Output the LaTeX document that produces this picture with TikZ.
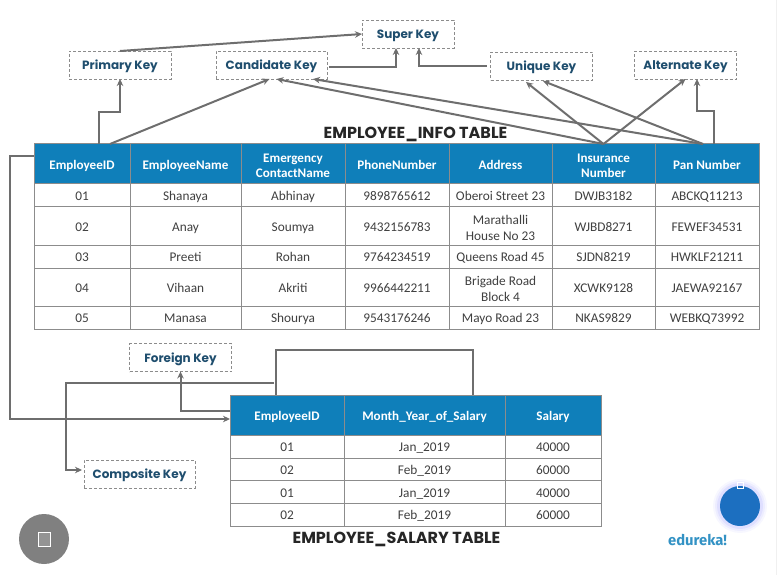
\documentclass[tikz,border=0pt]{standalone}
\usepackage{fontspec}
\setmainfont{Carlito}
\newfontfamily\keyfont{Poppins}
\newfontfamily\logofont{Fira Sans}
\usepackage{tikz}
\usetikzlibrary{positioning,arrows.meta}
\definecolor{headblue}{HTML}{0F7FBA}
\definecolor{keyink}{HTML}{1F4E6E}
\definecolor{lineg}{HTML}{6E6E6E}
\definecolor{gridg}{HTML}{8C8C8C}
\definecolor{bodyink}{HTML}{404040}
\definecolor{chatblue}{HTML}{1C6FC0}
\newcommand{\cellstrut}[2]{\rule{0pt}{#1pt}\rule[-#2pt]{0pt}{#2pt}}
\newcommand{\twoline}{\rule{0pt}{15.2pt}}
\tikzstyle{keybox} = [
rectangle,
draw=gridg,
densely dashed,
fill=white,
line width=0.7pt,
minimum width=102pt,
minimum height=28pt,
inner sep=0pt,
outer sep=0pt,
text=keyink,
execute at begin node={\cellstrut{13}{4}},
font=\keyfont\bfseries\fontsize{12}{14}\selectfont
]
\tikzstyle{headcell} = [
rectangle,
draw=gridg,
fill=headblue,
line width=1pt,
inner sep=0pt,
outer sep=0pt,
align=center,
text=white,
execute at begin node={\rule{0pt}{13.5pt}},
execute at end node={\rule[-3pt]{0pt}{3pt}},
font=\bfseries\fontsize{13.1}{15.5}\selectfont
]
\tikzstyle{bodycell} = [
rectangle,
draw=gridg,
fill=white,
line width=1pt,
inner sep=0pt,
outer sep=0pt,
align=center,
text=bodyink,
execute at begin node={\rule{0pt}{13.5pt}},
execute at end node={\rule[-3pt]{0pt}{3pt}},
font=\fontsize{13.3}{16}\selectfont
]
\tikzstyle{tabletitle} = [
inner sep=0pt,
text=black!85,
font=\keyfont\bfseries\fontsize{16}{18}\selectfont
]
\tikzstyle{arrow} = [
draw=lineg,
line width=2pt,
-{Stealth[length=7pt,width=6.5pt]}
]
\tikzstyle{plain} = [
draw=lineg,
line width=2pt
]
\begin{document}
\begin{tikzpicture}[x=1pt,y=-1pt]
	\useasboundingbox (0,0) rectangle (777,575);
	\fill[black!6] (775.5,0) rectangle (777,575);
	%Key nodes
	\node[keybox,minimum width=92pt] (superkey) at (408,34) {Super Key};
	\node[keybox] (primarykey) at (120,65) {Primary Key};
	\node[keybox,minimum width=111pt] (candkey) at (271.5,65) {Candidate Key};
	\node[keybox] (uniquekey) at (541.5,66.5) {Unique Key};
	\node[keybox] (altkey) at (685.5,65) {Alternate Key};
	\node[keybox] (foreignkey) at (180.5,357.5) {Foreign Key};
	\node[keybox,minimum width=111pt] (compkey) at (139.5,474) {Composite Key};
	%Info table
	\foreach \xa/\xb/\txt [count=\cl] in {34/130/EmployeeID,130/241/EmployeeName,241/345/{\twoline Emergency\\ContactName},345/449/PhoneNumber,449/552/Address,552/655/{\twoline Insurance\\Number},655/759/Pan Number}
		\node[headcell,minimum width={\xb-\xa},minimum height=40] (info\cl) at ({(\xa+\xb)/2},164) {\txt};
	\foreach \ya/\yb/\ta/\tb/\tc/\td/\te/\tf/\tg [count=\rw] in {
		184/207/01/Shanaya/Abhinay/9898765612/Oberoi Street 23/DWJB3182/ABCKQ11213,
		207/245/02/Anay/Soumya/9432156783/{\twoline Marathalli\\House No 23}/WJBD8271/FEWEF34531,
		245/268/03/Preeti/Rohan/9764234519/Queens Road 45/SJDN8219/HWKLF21211,
		268/306/04/Vihaan/Akriti/9966442211/{\twoline Brigade Road\\Block 4}/XCWK9128/JAEWA92167,
		306/329/05/Manasa/Shourya/9543176246/Mayo Road 23/NKAS9829/WEBKQ73992}
		\foreach \xa/\xb/\txt [count=\cl] in {34/130/\ta,130/241/\tb,241/345/\tc,345/449/\td,449/552/\te,552/655/\tf,655/759/\tg}
			\node[bodycell,minimum width={\xb-\xa},minimum height={\yb-\ya}] (info\rw-\cl) at ({(\xa+\xb)/2},{(\ya+\yb)/2}) {\txt};
	%Salary table
	\foreach \xa/\xb/\txt [count=\cl] in {230/344/EmployeeID,344/505/Month\_Year\_of\_Salary,505/601/Salary}
		\node[headcell,minimum width={\xb-\xa},minimum height=40] (sal\cl) at ({(\xa+\xb)/2},415) {\txt};
	\foreach \ya/\yb/\ta/\tb/\tc [count=\rw] in {435/458/01/Jan\_2019/40000,458/480.5/02/Feb\_2019/60000,480.5/503/01/Jan\_2019/40000,503/526/02/Feb\_2019/60000}
		\foreach \xa/\xb/\txt [count=\cl] in {230/344/\ta,344/505/\tb,505/601/\tc}
			\node[bodycell,minimum width={\xb-\xa},minimum height={\yb-\ya}] (sal\rw-\cl) at ({(\xa+\xb)/2},{(\ya+\yb)/2}) {\txt};
	%Titles
	\node[tabletitle] (infotitle) at (415.5,134) {EMPLOYEE\_INFO TABLE};
	\node[tabletitle] (saltitle) at (396.5,539) {EMPLOYEE\_SALARY TABLE};
	\node[inner sep=0pt,text=headblue!85!white,font=\logofont\bfseries\fontsize{14.8}{17}\selectfont] (logo) at (697.5,540) {edureka!};
	%Page buttons
	\node[circle,fill=black!50,minimum size=50,inner sep=0pt] (stopbtn) at (44,539) {};
	\node[rectangle,draw=white,fill=black!42,line width=0.8pt,minimum width=12,minimum height=14,inner sep=0pt] (stopicon) at (44,539) {};
	\foreach \rr/\op in {27/0.05,25/0.07,23/0.1}
		\fill[blue!60,opacity=\op] (740,506) circle (\rr);
	\node[circle,fill=chatblue,minimum size=40,inner sep=0pt] (chatbtn) at (740,506) {};
	\node[rectangle,draw=white,line width=0.8pt,minimum size=6,inner sep=0pt] (chaticon) at (740,485.5) {};
	%Free coordinates
	\coordinate (leftbend) at (10,300);
	\coordinate (compstart) at (274,383);
	\coordinate (compbend) at (66,420);
	%Arrows
	\draw[arrow] (primarykey.north) -- (superkey.west);
	\draw[arrow] ([xshift=2pt,yshift=-2pt]candkey.east) -| ([xshift=-12pt]superkey.south);
	\draw[arrow] ([xshift=-4pt]uniquekey.west) -| ([xshift=11pt]superkey.south);
	\draw[arrow] ([xshift=17pt]info1.north) -- ++(0,-32) -| (primarykey.south);
	\draw[arrow] ([xshift=28pt]info1.north) -- ([xshift=-2pt]candkey.south);
	\draw[arrow] (info6.north) -- ([xshift=5pt]candkey.south);
	\draw[arrow] ([xshift=-4pt]info7.north) -- ([xshift=41.5pt]candkey.south);
	\draw[arrow] (info6.north) -- ([xshift=-15.5pt,yshift=-1.5pt]uniquekey.south);
	\draw[arrow] ([xshift=-4pt]info7.north) -- ([xshift=1.5pt,yshift=-0.5pt]uniquekey.south);
	\draw[arrow] (info6.north) -- (altkey.south);
	\draw[arrow] ([xshift=7pt]info7.north) -- ++(0,-33) -| ([xshift=11.5pt]altkey.south);
	\draw[arrow] ([yshift=8pt]info1.west) -| (leftbend) |- ([yshift=-4pt]sal1.west);
	\draw[arrow] ([yshift=4pt]sal1.west) -| (foreignkey.south);
	\draw[arrow] (compstart) -| (compbend) |- ([xshift=-2pt,yshift=4pt]compkey.west);
	\draw[plain] ([xshift=-11pt]sal1.north) -- ++(0,-45) -| ([xshift=48.5pt]sal2.north);
\end{tikzpicture}
\end{document}
